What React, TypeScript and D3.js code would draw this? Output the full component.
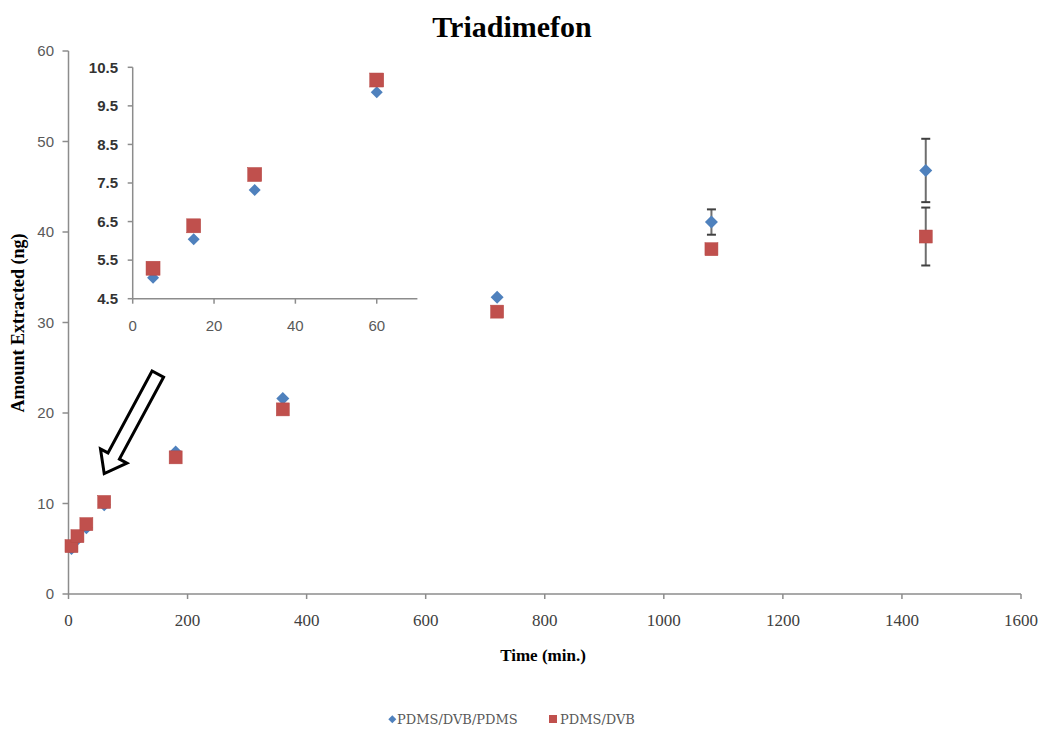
import React from "react";
import * as d3 from "d3";

// Extraction time (min.) and amounts extracted (ng) for each fibre coating
const times = [5, 15, 30, 60, 180, 360, 720, 1080, 1440];
const pdmsDvbPdms = [5.04, 6.04, 7.32, 9.85, 15.7, 21.6, 32.8, 41.1, 46.8];
const pdmsDvb = [5.29, 6.39, 7.72, 10.17, 15.1, 20.4, 31.2, 38.1, 39.5];
const errPdmsDvbPdms = [0, 0, 0, 0, 0, 0, 0, 1.4, 3.5];
const errPdmsDvb = [0, 0, 0, 0, 0, 0, 0, 0, 3.2];

const seriesNames = ["PDMS/DVB/PDMS", "PDMS/DVB"];
const mainXTicks = [0, 200, 400, 600, 800, 1000, 1200, 1400, 1600];
const mainYTicks = [0, 10, 20, 30, 40, 50, 60];
const insetXTicks = [0, 20, 40, 60];
const insetYTicks = [4.5, 5.5, 6.5, 7.5, 8.5, 9.5, 10.5];
const insetMaxTime = 60;

// Arrow pointing from the inset down to the early-time points (data coords)
const arrowFrom = { t: 150, v: 24.3 };
const arrowTo = { t: 60, v: 13.3 };

const BLUE = "#4F81BD";
const RED = "#C0504D";
const AXIS = "#8C8C8C";

type Pt = { t: number; v: number; e: number };

const makeSeries = (vals: number[], errs: number[]): Pt[] =>
  times.map((t, i) => ({ t, v: vals[i], e: errs[i] }));

const seriesA = makeSeries(pdmsDvbPdms, errPdmsDvbPdms);
const seriesB = makeSeries(pdmsDvb, errPdmsDvb);

const diamond = (cx: number, cy: number, r: number) =>
  `M${cx},${cy - r}L${cx + r},${cy}L${cx},${cy + r}L${cx - r},${cy}Z`;

export default function App() {
  const W = 1043;
  const H = 734;

  const x = d3.scaleLinear().domain([0, 1600]).range([68.5, 1021]);
  const y = d3.scaleLinear().domain([0, 60]).range([594, 51]);

  const ix = d3.scaleLinear().domain([0, 70]).range([132.7, 417.4]);
  const iy = d3.scaleLinear().domain([4.5, 10.5]).range([298.7, 67.3]);

  // Block arrow geometry
  const ax0 = x(arrowFrom.t);
  const ay0 = y(arrowFrom.v);
  const ax1 = x(arrowTo.t);
  const ay1 = y(arrowTo.v);
  const len = Math.hypot(ax1 - ax0, ay1 - ay0);
  const ang = (Math.atan2(ay1 - ay0, ax1 - ax0) * 180) / Math.PI;
  const shaftHalf = 6.5;
  const headHalf = 15;
  const headLen = 20;
  const arrowPts: [number, number][] = [
    [0, -shaftHalf],
    [len - headLen, -shaftHalf],
    [len - headLen, -headHalf],
    [len, 0],
    [len - headLen, headHalf],
    [len - headLen, shaftHalf],
    [0, shaftHalf],
  ];
  const arrowPath = d3.line()(arrowPts) + "Z";

  const errorBars = (s: Pt[], key: string) =>
    s
      .filter((p) => p.e > 0)
      .map((p, i) => (
        <g key={key + i} stroke="#6E6E6E" strokeWidth={2}>
          <line x1={x(p.t)} x2={x(p.t)} y1={y(p.v + p.e)} y2={y(p.v - p.e)} />
          <line x1={x(p.t) - 4.5} x2={x(p.t) + 4.5} y1={y(p.v + p.e)} y2={y(p.v + p.e)} stroke="#404040" />
          <line x1={x(p.t) - 4.5} x2={x(p.t) + 4.5} y1={y(p.v - p.e)} y2={y(p.v - p.e)} stroke="#404040" />
        </g>
      ));

  const insetA = seriesA.filter((p) => p.t <= insetMaxTime);
  const insetB = seriesB.filter((p) => p.t <= insetMaxTime);

  return (
    <svg
      width={W}
      height={H}
      style={{ position: "absolute", left: 0, top: 0, background: "#fff" }}
    >
      <rect width={W} height={H} fill="#fff" />

      {/* Title */}
      <text
        x={512}
        y={37}
        textAnchor="middle"
        fontFamily="Liberation Serif"
        fontWeight="bold"
        fontSize={30}
        fill="#000"
      >
        Triadimefon
      </text>

      {/* Main axes */}
      <g>
        <line x1={x(0)} x2={x(1600)} y1={y(0)} y2={y(0)} stroke={AXIS} strokeWidth={1.5} />
        <line x1={x(0)} x2={x(0)} y1={y(0)} y2={y(60)} stroke={AXIS} strokeWidth={1.5} />
        {mainYTicks.map((t) => (
          <g key={"my" + t}>
            <line x1={x(0) - 6} x2={x(0)} y1={y(t)} y2={y(t)} stroke={AXIS} strokeWidth={1.5} />
            <text
              x={54}
              y={y(t)}
              dy="0.35em"
              textAnchor="end"
              fontFamily="Liberation Sans"
              fontSize={15}
              fill="#595959"
            >
              {t}
            </text>
          </g>
        ))}
        {mainXTicks.map((t) => (
          <g key={"mx" + t}>
            <line x1={x(t)} x2={x(t)} y1={y(0)} y2={y(0) + 5} stroke={AXIS} strokeWidth={1.5} />
            <text
              x={x(t)}
              y={626}
              textAnchor="middle"
              fontFamily="Liberation Serif"
              fontSize={17}
              fill="#404040"
            >
              {t}
            </text>
          </g>
        ))}
        <text
          x={543}
          y={661}
          textAnchor="middle"
          fontFamily="Liberation Serif"
          fontWeight="bold"
          fontSize={17}
          fill="#000"
        >
          Time (min.)
        </text>
        <text
          transform="translate(24,323) rotate(-90)"
          textAnchor="middle"
          fontFamily="Liberation Serif"
          fontWeight="bold"
          fontSize={18}
          fill="#000"
        >
          Amount Extracted (ng)
        </text>
      </g>

      {/* Main series */}
      {errorBars(seriesA, "ea")}
      {seriesA.map((p, i) => (
        <path key={"a" + i} d={diamond(x(p.t), y(p.v), 6.5)} fill={BLUE} />
      ))}
      {errorBars(seriesB, "eb")}
      {seriesB.map((p, i) => (
        <rect
          key={"b" + i}
          x={x(p.t) - 6.5}
          y={y(p.v) - 6.5}
          width={13}
          height={13}
          fill={RED}
          stroke="#B64845"
          strokeWidth={0.5}
        />
      ))}

      {/* Arrow */}
      <path
        d={arrowPath}
        transform={`translate(${ax0},${ay0}) rotate(${ang})`}
        fill="#fff"
        stroke="#000"
        strokeWidth={3}
        strokeLinejoin="miter"
      />

      {/* Inset: first hour */}
      <g>
        <line x1={ix(0)} x2={ix(70)} y1={iy(4.5)} y2={iy(4.5)} stroke={AXIS} strokeWidth={1.5} />
        <line x1={ix(0)} x2={ix(0)} y1={iy(4.5)} y2={iy(10.5)} stroke={AXIS} strokeWidth={1.5} />
        {insetYTicks.map((t) => (
          <g key={"iy" + t}>
            <line x1={ix(0) - 5} x2={ix(0)} y1={iy(t)} y2={iy(t)} stroke={AXIS} strokeWidth={1.5} />
            <text
              x={118}
              y={iy(t)}
              dy="0.35em"
              textAnchor="end"
              fontFamily="Liberation Sans"
              fontWeight="bold"
              fontSize={15}
              fill="#333"
            >
              {t.toFixed(1)}
            </text>
          </g>
        ))}
        {insetXTicks.map((t) => (
          <g key={"ix" + t}>
            <line x1={ix(t)} x2={ix(t)} y1={iy(4.5)} y2={iy(4.5) + 5} stroke={AXIS} strokeWidth={1.5} />
            <text
              x={ix(t)}
              y={331}
              textAnchor="middle"
              fontFamily="Liberation Sans"
              fontSize={15}
              fill="#595959"
            >
              {t}
            </text>
          </g>
        ))}
        {insetA.map((p, i) => (
          <path key={"ia" + i} d={diamond(ix(p.t), iy(p.v), 6)} fill={BLUE} />
        ))}
        {insetB.map((p, i) => (
          <rect
            key={"ib" + i}
            x={ix(p.t) - 7}
            y={iy(p.v) - 7}
            width={14}
            height={14}
            fill={RED}
            stroke="#B64845"
            strokeWidth={0.5}
          />
        ))}
      </g>

      {/* Legend */}
      <g fontFamily="DejaVu Serif" fontSize={13} fill="#595959">
        <path d={diamond(392.3, 719.3, 4)} fill={BLUE} />
        <text x={397} y={724}>
          {seriesNames[0]}
        </text>
        <rect x={549} y={715} width={8} height={8} fill={RED} />
        <text x={560} y={724}>
          {seriesNames[1]}
        </text>
      </g>
    </svg>
  );
}
